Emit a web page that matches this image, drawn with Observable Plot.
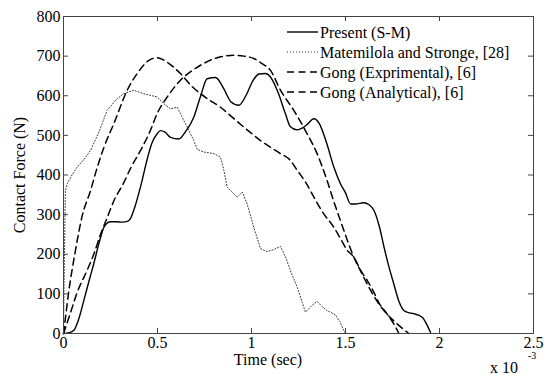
<!DOCTYPE html>
<html><head><meta charset="utf-8">
<script src="https://cdn.jsdelivr.net/npm/d3@7"></script>
<script src="https://cdn.jsdelivr.net/npm/@observablehq/plot@0.6"></script>
<style>
body{margin:0;background:#fff;}
#wrap{position:relative;width:544px;height:375px;}
svg text{font-family:"Liberation Serif","Times New Roman",serif;}
</style></head><body><div id="wrap"></div>
<script>
// Time in units of 1e-3 s, force in N
const presentT = [0,0.03,0.055,0.08,0.108,0.14,0.161,0.19,0.215,0.235,0.25,0.28,0.312,0.34,0.356,0.38,0.4,0.418,0.44,0.47,0.498,0.516,0.54,0.57,0.613,0.65,0.693,0.73,0.764,0.809,0.85,0.89,0.933,0.97,1.01,1.04,1.074,1.1,1.14,1.18,1.207,1.243,1.29,1.332,1.36,1.40,1.438,1.473,1.50,1.527,1.553,1.597,1.625,1.651,1.68,1.705,1.73,1.757,1.785,1.81,1.84,1.863,1.908,1.93,1.952];
const presentF = [0,2,8,35,83,140,176,230,268,280,282,282,281,283,290,320,353,386,430,480,504,512,508,495,491,510,546,600,643,646,620,585,576,600,640,655,656,648,610,555,522,514,525,542,530,480,420,378,355,327,327,330,325,311,270,218,170,125,80,58,52,50,41,25,3];

const mateT = [0,0.005,0.01,0.02,0.045,0.073,0.11,0.144,0.19,0.232,0.28,0.32,0.374,0.427,0.498,0.534,0.569,0.605,0.631,0.658,0.693,0.711,0.746,0.8,0.835,0.853,0.87,0.888,0.924,0.951,0.977,1.012,1.048,1.083,1.12,1.154,1.181,1.21,1.243,1.287,1.32,1.349,1.375,1.402,1.447,1.47,1.491,1.50];
const mateF = [0,200,360,378,400,420,440,462,510,563,590,605,614,605,597,580,567,571,546,521,487,465,458,454,445,412,370,361,344,357,327,268,214,207,212,220,193,155,117,54,70,81,68,58,47,30,8,0];

const gongExpT = [0,0.01,0.028,0.06,0.1,0.144,0.18,0.215,0.268,0.339,0.392,0.45,0.498,0.55,0.622,0.68,0.729,0.78,0.835,0.888,0.941,1.0,1.048,1.101,1.15,1.207,1.243,1.29,1.332,1.38,1.438,1.473,1.509,1.544,1.58,1.615,1.65,1.677,1.72,1.76,1.784];
const gongExpF = [0,38,106,200,298,361,420,470,530,614,656,688,696,685,656,625,605,588,571,550,528,505,487,470,455,437,412,380,344,305,268,240,210,193,160,134,105,78,50,22,0];

const gongAnaT = [0,0.037,0.073,0.126,0.161,0.197,0.232,0.268,0.32,0.36,0.41,0.46,0.498,0.552,0.622,0.68,0.729,0.817,0.906,0.96,1.012,1.06,1.101,1.154,1.225,1.296,1.349,1.402,1.44,1.473,1.51,1.544,1.58,1.615,1.65,1.677,1.71,1.75,1.79,1.837];
const gongAnaF = [0,52,104,160,200,250,292,335,380,420,462,510,555,597,639,662,677,696,702,700,694,680,664,614,563,504,454,386,330,285,235,193,158,125,95,75,55,35,18,0];

const seriesNames = ["Present (S-M)","Matemilola and Stronge, [28]","Gong (Exprimental), [6]","Gong (Analytical), [6]"];
const xTicks = [0,0.5,1,1.5,2,2.5];
const xTickLabels = ["0","0.5","1","1.5","2","2.5"];
const yTicks = [0,100,200,300,400,500,600,700,800];
const xLabel = "Time (sec)";
const yLabel = "Contact Force (N)";
const xExpBase = "x 10";
const xExpSup = "-3";

const rows = (T,F,name) => T.map((t,i)=>({t, f:F[i], series:name}));
const present = rows(presentT,presentF,seriesNames[0]);
const mate = rows(mateT,mateF,seriesNames[1]);
const gongExp = rows(gongExpT,gongExpF,seriesNames[2]);
const gongAna = rows(gongAnaT,gongAnaF,seriesNames[3]);

const W=544,H=375,mL=63,mR=11,mT=16,mB=42;
const innerW=W-mL-mR, innerH=H-mT-mB, tickLen=5;
const axisColor="#444";
const dash="7,4.5";
const font='"Liberation Serif","Times New Roman",serif';

const chart = Plot.plot({
  width:W, height:H, marginLeft:mL, marginRight:mR, marginTop:mT, marginBottom:mB,
  style:{fontFamily:font, fontSize:"16px", background:"#fff", color:"#000", overflow:"visible"},
  x:{domain:[0,2.5]},
  y:{domain:[0,800]},
  marks:[
    Plot.line(mate,{x:"t",y:"f",stroke:"#333",strokeWidth:1,strokeDasharray:"1,2"}),
    Plot.line(gongExp,{x:"t",y:"f",stroke:"#000",strokeWidth:1.5,strokeDasharray:dash,curve:"monotone-x"}),
    Plot.line(gongAna,{x:"t",y:"f",stroke:"#000",strokeWidth:1.5,strokeDasharray:dash,curve:"monotone-x"}),
    Plot.line(present,{x:"t",y:"f",stroke:"#000",strokeWidth:1.4,curve:"monotone-x"}),
    Plot.frame({stroke:axisColor}),
    Plot.tickX(xTicks,{x:d=>d,insetTop:innerH-tickLen,stroke:axisColor}),
    Plot.tickX(xTicks,{x:d=>d,insetBottom:innerH-tickLen,stroke:axisColor}),
    Plot.tickY(yTicks,{y:d=>d,insetRight:innerW-tickLen,stroke:axisColor}),
    Plot.tickY(yTicks,{y:d=>d,insetLeft:innerW-tickLen,stroke:axisColor}),
    Plot.axisX(xTicks,{tickSize:0,tickPadding:3,label:null,tickFormat:d=>xTickLabels[xTicks.indexOf(d)]}),
    Plot.axisY(yTicks,{tickSize:0,tickPadding:3,label:null})
  ]
});
document.getElementById("wrap").appendChild(chart);

const svg = d3.select(chart);
const addText = (x,y,size,anchor,txt,transform) => {
  const t = svg.append("text").attr("font-size",size).attr("fill","#000").attr("text-anchor",anchor).text(txt);
  if (transform) t.attr("transform",transform); else t.attr("x",x).attr("y",y);
  return t;
};
addText(268,365,16,"middle",xLabel);
addText(0,0,16,"middle",yLabel,"translate(25,175) rotate(-90)");
addText(490,373,16,"start",xExpBase);
addText(528,359,10,"start",xExpSup);

// legend (no box)
const legStyles = [
  {dash:null,w:1.4,c:"#000"},
  {dash:"1,2",w:1,c:"#333"},
  {dash:dash,w:1.5,c:"#000"},
  {dash:dash,w:1.5,c:"#000"}
];
const lg = svg.append("g");
seriesNames.forEach((name,i)=>{
  const y = 32 + i*20;
  const ln = lg.append("line").attr("x1",287).attr("x2",318).attr("y1",y).attr("y2",y)
    .attr("stroke",legStyles[i].c).attr("stroke-width",legStyles[i].w);
  if(legStyles[i].dash) ln.attr("stroke-dasharray",legStyles[i].dash);
  lg.append("text").attr("x",320).attr("y",y+5.5).attr("font-size",16).attr("fill","#000")
    .attr("text-anchor","start").text(name);
});
</script>
</body></html>
